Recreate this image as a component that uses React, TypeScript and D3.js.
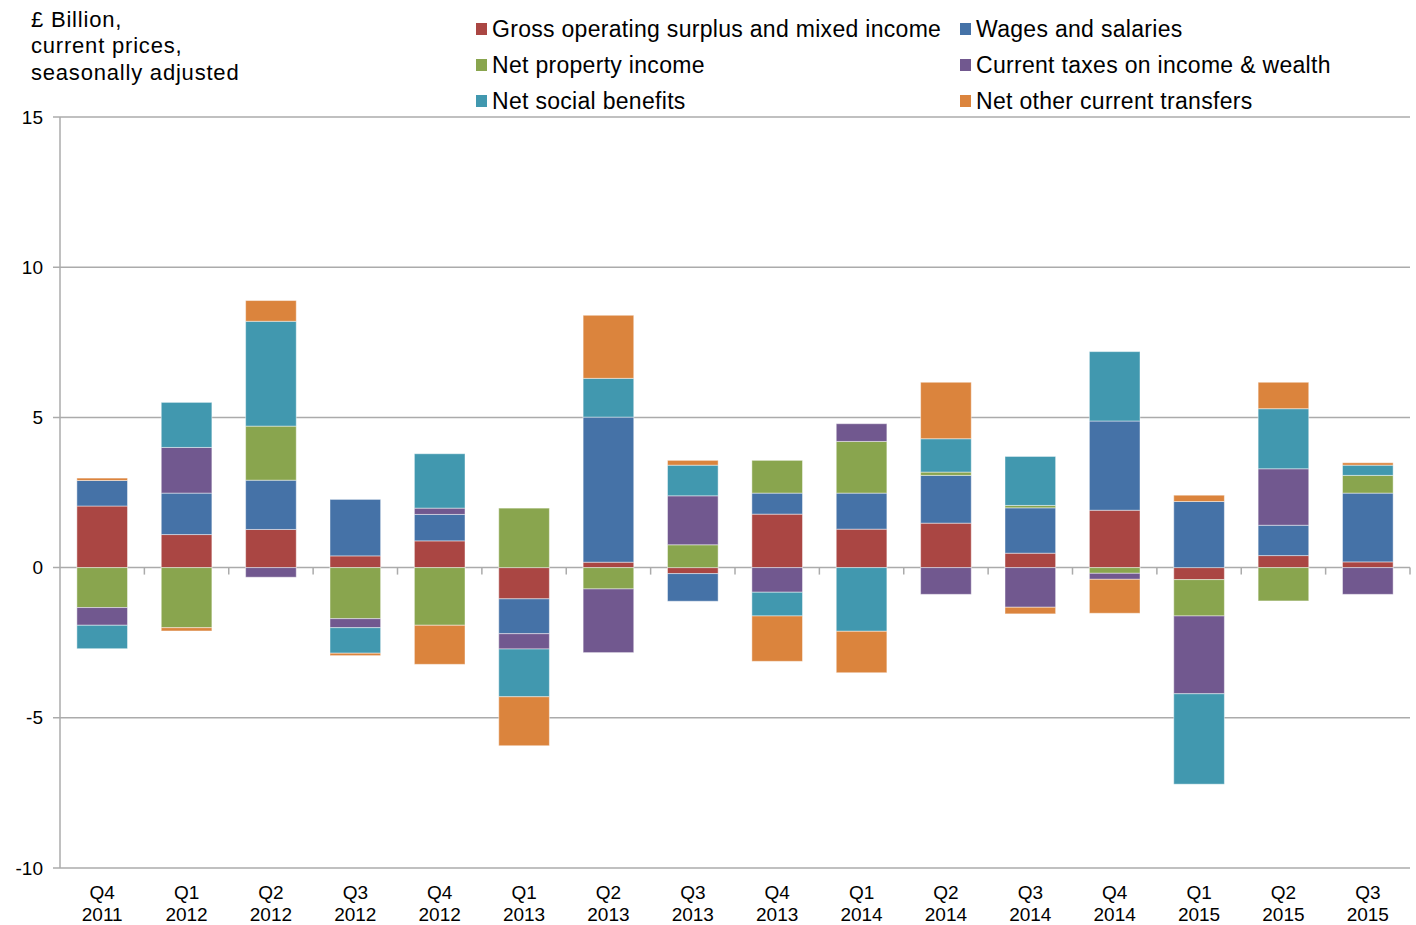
import { useEffect, useMemo } from 'react'
import { scaleBand, scaleLinear, stack, stackOffsetDiverging } from 'd3'

// Quarterly contributions, £ billion
const QUARTERS = ['Q4', 'Q1', 'Q2', 'Q3', 'Q4', 'Q1', 'Q2', 'Q3', 'Q4', 'Q1', 'Q2', 'Q3', 'Q4', 'Q1', 'Q2', 'Q3']
const YEARS = ['2011', '2012', '2012', '2012', '2012', '2013', '2013', '2013', '2013', '2014', '2014', '2014', '2014', '2015', '2015', '2015']

const GOS = [2.05, 1.1, 1.27, 0.39, 0.89, -1.04, 0.18, -0.2, 1.78, 1.28, 1.48, 0.48, 1.91, -0.4, 0.4, 0.19]
const WAGES = [0.85, 1.38, 1.64, 1.88, 0.88, -1.16, 4.83, -0.92, 0.7, 1.2, 1.59, 1.51, 2.97, 2.2, 1.01, 2.29]
const PROPERTY = [-1.33, -2.0, 1.8, -1.7, -1.92, 1.98, -0.71, 0.76, 1.09, 1.72, 0.11, 0.08, -0.19, -1.21, -1.11, 0.59]
const TAXES = [-0.59, 1.52, -0.32, -0.3, 0.21, -0.51, -2.12, 1.63, -0.82, 0.59, -0.89, -1.32, -0.2, -2.59, 1.88, -0.89]
const BENEFITS = [-0.78, 1.5, 3.49, -0.85, 1.81, -1.59, 1.29, 1.02, -0.79, -2.12, 1.11, 1.63, 2.31, -3.01, 2.0, 0.34]
const TRANSFERS = [0.08, -0.11, 0.69, -0.08, -1.3, -1.63, 2.1, 0.16, -1.51, -1.38, 1.88, -0.22, -1.13, 0.21, 0.88, 0.08]

const SERIES = [
  { key: 'gos', label: 'Gross operating surplus and mixed income', values: GOS, color: '#AA4643' },
  { key: 'wages', label: 'Wages and salaries', values: WAGES, color: '#4572A7' },
  { key: 'property', label: 'Net property income', values: PROPERTY, color: '#89A54E' },
  { key: 'taxes', label: 'Current taxes on income & wealth', values: TAXES, color: '#71588F' },
  { key: 'benefits', label: 'Net social benefits', values: BENEFITS, color: '#4198AF' },
  { key: 'transfers', label: 'Net other current transfers', values: TRANSFERS, color: '#DB843D' },
]

const Y_TICKS = [15, 10, 5, 0, -5, -10]

// legend order as laid out: left column then right column
const LEGEND_LEFT = ['gos', 'property', 'benefits']
const LEGEND_RIGHT = ['wages', 'taxes', 'transfers']

const W = 1416
const H = 925
const LEFT = 60
const RIGHT = 1410
const TOP = 117
const BOTTOM = 868
const FONT = '"Liberation Sans", Arial, sans-serif'
const GRID = '#ababab'

export default function App() {
  useEffect(() => {
    document.body.style.margin = '0'
  }, [])

  const { x, y, layers } = useMemo(() => {
    const rows = QUARTERS.map((_, i) => {
      const r: Record<string, number> = { i }
      SERIES.forEach((s) => (r[s.key] = s.values[i]))
      return r
    })
    const layers = stack<Record<string, number>>()
      .keys(SERIES.map((s) => s.key))
      .offset(stackOffsetDiverging)(rows)
    return {
      x: scaleBand<number>().domain(QUARTERS.map((_, i) => i)).range([LEFT, RIGHT]).paddingInner(0.4).paddingOuter(0.2),
      y: scaleLinear().domain([-10, 15]).range([BOTTOM, TOP]),
      layers,
    }
  }, [])

  const step = x.step()
  const byKey = (k: string) => SERIES.find((s) => s.key === k)!

  return (
    <svg width={W} height={H} style={{ display: 'block', background: '#fff' }} fontFamily={FONT}>
      {/* unit note */}
      <text x={31} fontSize={22} letterSpacing={0.8} fill="#000">
        <tspan x={31} y={27}>£ Billion,</tspan>
        <tspan x={31} y={53}>current prices,</tspan>
        <tspan x={31} y={80}>seasonally adjusted</tspan>
      </text>

      {/* legend */}
      {[LEGEND_LEFT, LEGEND_RIGHT].map((col, c) =>
        col.map((k, r) => {
          const s = byKey(k)
          const lx = c === 0 ? 476 : 960
          const ly = 29 + r * 36
          return (
            <g key={k}>
              <rect x={lx} y={ly - 6} width={11} height={12} fill={s.color} />
              <text x={lx + 16} y={ly} dy="0.36em" fontSize={23} letterSpacing={0.3} fill="#000">
                {s.label}
              </text>
            </g>
          )
        })
      )}

      {/* gridlines + y ticks */}
      {Y_TICKS.map((t) => (
        <g key={t}>
          <line x1={LEFT - 7} x2={RIGHT} y1={y(t)} y2={y(t)} stroke={GRID} strokeWidth={1.5} />
          <text x={43} y={y(t)} dy="0.35em" textAnchor="end" fontSize={19} fill="#000">
            {t}
          </text>
        </g>
      ))}
      <line x1={LEFT} x2={LEFT} y1={TOP} y2={BOTTOM} stroke={GRID} strokeWidth={1.5} />

      {/* category ticks on the zero line */}
      {QUARTERS.map((_, i) => (
        <line
          key={i}
          x1={LEFT + step * (i + 1)}
          x2={LEFT + step * (i + 1)}
          y1={y(0)}
          y2={y(0) + 7}
          stroke={GRID}
          strokeWidth={1.5}
        />
      ))}

      {/* stacked bars */}
      {layers.map((layer) => {
        const s = byKey(layer.key)
        return (
          <g key={layer.key}>
            {layer.map((d, i) =>
              d[0] === d[1] ? null : (
                <rect
                  key={i}
                  x={x(i)}
                  y={y(Math.max(d[0], d[1]))}
                  width={x.bandwidth()}
                  height={Math.abs(y(d[0]) - y(d[1]))}
                  fill={s.color}
                  stroke="#ffffff"
                  strokeOpacity={0.45}
                  strokeWidth={1}
                />
              )
            )}
          </g>
        )
      })}

      {/* category labels */}
      {QUARTERS.map((q, i) => {
        const cx = (x(i) ?? 0) + x.bandwidth() / 2
        return (
          <text key={i} x={cx} textAnchor="middle" fontSize={19} fill="#000">
            <tspan x={cx} y={899}>{q}</tspan>
            <tspan x={cx} y={921}>{YEARS[i]}</tspan>
          </text>
        )
      })}
    </svg>
  )
}
